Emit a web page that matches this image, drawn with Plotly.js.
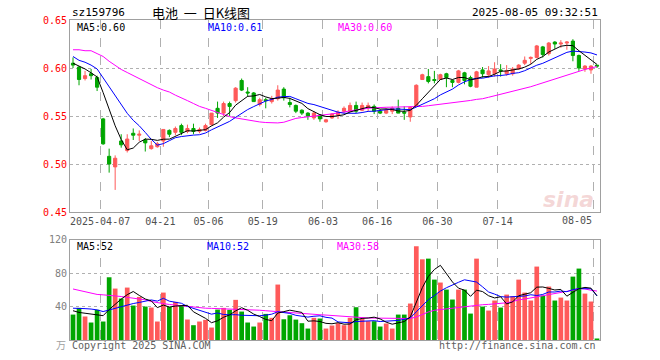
<!DOCTYPE html>
<html><head><meta charset="utf-8">
<script src="https://cdn.plot.ly/plotly-3.0.1.min.js"></script>
<style>html,body{margin:0;padding:0;background:#fff}#chart{width:660px;height:360px}</style>
</head><body><div id="chart"></div>
<script>
// ---- data ----
const dates = [
 '2025-03-28','2025-03-31','2025-04-01','2025-04-02','2025-04-03','2025-04-07','2025-04-08','2025-04-09','2025-04-10','2025-04-11',
 '2025-04-14','2025-04-15','2025-04-16','2025-04-17','2025-04-18','2025-04-21','2025-04-22','2025-04-23','2025-04-24','2025-04-25',
 '2025-04-28','2025-04-29','2025-04-30','2025-05-06','2025-05-07','2025-05-08','2025-05-09','2025-05-12','2025-05-13','2025-05-14',
 '2025-05-15','2025-05-16','2025-05-19','2025-05-20','2025-05-21','2025-05-22','2025-05-23','2025-05-26','2025-05-27','2025-05-28',
 '2025-05-29','2025-05-30','2025-06-03','2025-06-04','2025-06-05','2025-06-06','2025-06-09','2025-06-10','2025-06-11','2025-06-12',
 '2025-06-13','2025-06-16','2025-06-17','2025-06-18','2025-06-19','2025-06-20','2025-06-23','2025-06-24','2025-06-25','2025-06-26',
 '2025-06-27','2025-06-30','2025-07-01','2025-07-02','2025-07-03','2025-07-04','2025-07-07','2025-07-08','2025-07-09','2025-07-10',
 '2025-07-11','2025-07-14','2025-07-15','2025-07-16','2025-07-17','2025-07-18','2025-07-21','2025-07-22','2025-07-23','2025-07-24',
 '2025-07-25','2025-07-28','2025-07-29','2025-07-30','2025-07-31','2025-08-01','2025-08-04','2025-08-05'];
const open = [
 0.605,0.601,0.589,0.594,0.590,0.547,0.508,0.497,0.524,0.514,
 0.532,0.530,0.525,0.516,0.518,0.524,0.535,0.533,0.540,0.534,
 0.537,0.534,0.535,0.541,0.558,0.553,0.563,0.566,0.587,0.575,
 0.574,0.562,0.567,0.565,0.568,0.578,0.564,0.561,0.556,0.553,
 0.548,0.551,0.544,0.548,0.551,0.555,0.555,0.561,0.556,0.559,
 0.560,0.555,0.553,0.555,0.558,0.554,0.549,0.560,0.588,0.591,
 0.588,0.588,0.594,0.587,0.585,0.595,0.590,0.580,0.598,0.593,
 0.594,0.598,0.594,0.594,0.599,0.605,0.610,0.611,0.622,0.615,
 0.627,0.625,0.626,0.628,0.613,0.599,0.598,0.603];
const high = [
 0.611,0.602,0.597,0.599,0.592,0.548,0.516,0.509,0.531,0.531,
 0.537,0.535,0.527,0.524,0.523,0.536,0.536,0.539,0.542,0.541,
 0.542,0.538,0.542,0.553,0.565,0.565,0.565,0.580,0.589,0.580,
 0.575,0.569,0.569,0.571,0.582,0.580,0.569,0.562,0.557,0.554,
 0.555,0.552,0.547,0.553,0.556,0.560,0.564,0.565,0.564,0.564,
 0.562,0.557,0.558,0.560,0.567,0.560,0.560,0.583,0.594,0.599,
 0.597,0.594,0.595,0.588,0.598,0.596,0.592,0.597,0.601,0.602,
 0.606,0.604,0.603,0.601,0.604,0.612,0.612,0.624,0.623,0.627,
 0.628,0.629,0.628,0.630,0.614,0.603,0.603,0.603];
const low = [
 0.600,0.582,0.587,0.588,0.576,0.520,0.491,0.473,0.517,0.512,
 0.525,0.524,0.513,0.515,0.517,0.518,0.528,0.530,0.530,0.532,
 0.531,0.532,0.534,0.540,0.548,0.550,0.550,0.564,0.576,0.570,
 0.565,0.560,0.558,0.563,0.566,0.566,0.559,0.553,0.551,0.546,
 0.546,0.544,0.543,0.547,0.547,0.553,0.554,0.553,0.555,0.555,
 0.552,0.552,0.552,0.552,0.553,0.546,0.544,0.560,0.588,0.584,
 0.584,0.588,0.580,0.580,0.584,0.583,0.580,0.580,0.590,0.590,
 0.591,0.591,0.592,0.592,0.598,0.603,0.604,0.610,0.611,0.613,
 0.620,0.621,0.619,0.607,0.597,0.596,0.594,0.600];
const close = [
 0.603,0.588,0.592,0.592,0.580,0.521,0.500,0.506,0.520,0.526,
 0.530,0.531,0.522,0.519,0.521,0.536,0.531,0.537,0.533,0.537,
 0.534,0.536,0.540,0.553,0.553,0.563,0.560,0.579,0.577,0.574,
 0.565,0.567,0.566,0.568,0.577,0.569,0.562,0.555,0.553,0.550,
 0.553,0.547,0.546,0.552,0.554,0.558,0.561,0.555,0.561,0.561,
 0.555,0.553,0.556,0.558,0.553,0.553,0.559,0.582,0.593,0.586,
 0.587,0.593,0.590,0.585,0.597,0.587,0.581,0.596,0.594,0.597,
 0.599,0.597,0.597,0.599,0.603,0.608,0.611,0.623,0.614,0.626,
 0.625,0.626,0.627,0.613,0.600,0.602,0.602,0.602];
const ma5 = [
 0.605,0.602,0.599,0.595,0.5907,0.5744,0.5569,0.5398,0.5255,0.5148,
 0.5166,0.5227,0.5259,0.5257,0.5246,0.5258,0.5259,0.5288,0.5316,0.5347,
 0.5343,0.5352,0.5358,0.5397,0.5429,0.5488,0.5536,0.5613,0.5663,0.5705,
 0.5709,0.5724,0.5699,0.5681,0.5686,0.5694,0.5683,0.5661,0.5631,0.5577,
 0.5545,0.5514,0.5495,0.5494,0.5503,0.5513,0.5542,0.5560,0.5578,0.5593,
 0.5587,0.5572,0.5574,0.5568,0.5552,0.5549,0.5559,0.5611,0.5680,0.5745,
 0.5812,0.5880,0.5896,0.5880,0.5901,0.5901,0.5877,0.5889,0.5909,0.5911,
 0.5935,0.5966,0.5969,0.5978,0.5990,0.6009,0.6039,0.6090,0.6119,0.6166,
 0.6198,0.6227,0.6236,0.6233,0.6180,0.6134,0.6087,0.6037];
const ma10 = [
 0.612,0.608,0.606,0.603,0.599,0.590,0.581,0.572,0.562,0.5528,
 0.5455,0.5398,0.5329,0.5256,0.5197,0.5212,0.5243,0.5274,0.5286,0.5296,
 0.5301,0.5305,0.5323,0.5356,0.5388,0.5415,0.5444,0.5486,0.5530,0.5567,
 0.5598,0.5630,0.5656,0.5672,0.5696,0.5702,0.5704,0.5680,0.5656,0.5631,
 0.5619,0.5599,0.5578,0.5562,0.5540,0.5529,0.5528,0.5528,0.5536,0.5548,
 0.5550,0.5557,0.5567,0.5573,0.5572,0.5568,0.5566,0.5593,0.5624,0.5649,
 0.5680,0.5720,0.5754,0.5780,0.5823,0.5856,0.5879,0.5893,0.5894,0.5906,
 0.5918,0.5922,0.5929,0.5944,0.5951,0.5972,0.6003,0.6029,0.6049,0.6078,
 0.6104,0.6133,0.6163,0.6176,0.6173,0.6166,0.6157,0.6136];
const ma30 = [
 0.619,0.619,0.618,0.618,0.615,0.612,0.607,0.6025,0.5985,0.5953,
 0.592,0.589,0.586,0.5825,0.5795,0.577,0.575,0.5717,0.5685,0.566,
 0.563,0.560,0.558,0.5557,0.5536,0.5515,0.5494,0.548,0.5468,0.5463,
 0.545,0.5438,0.5432,0.543,0.5428,0.5435,0.5456,0.5475,0.5484,0.549,
 0.5497,0.5505,0.5513,0.5522,0.5532,0.5545,0.5553,0.5563,0.5573,0.558,
 0.5585,0.559,0.5591,0.5592,0.5593,0.5593,0.5596,0.5597,0.560,0.5607,
 0.5615,0.562,0.5627,0.5634,0.5641,0.565,0.5662,0.5673,0.568,0.5695,
 0.571,0.5725,0.574,0.5755,0.577,0.5785,0.5805,0.5825,0.5845,0.5865,
 0.589,0.5912,0.5932,0.595,0.597,0.5985,0.600,0.6015];
const volume = [
 30.4,38.4,28.1,20.9,36.1,22.1,75.0,61.5,49.6,62.7,
 41.2,51.5,40.0,38.8,22.1,56.7,39.6,45.6,41.2,24.5,
 17.7,22.1,24.1,14.9,36.4,38.4,36.1,48.0,34.0,20.9,
 16.1,20.9,31.2,26.5,66.3,24.8,29.6,24.4,20.1,13.7,
 26.5,25.7,13.7,17.3,20.1,17.7,26.5,39.2,25.7,22.5,
 22.5,16.1,19.7,13.7,30.4,30.4,43.6,112.0,96.5,97.3,
 72.2,68.7,60.3,48.4,60.3,60.3,31.6,97.3,40.0,35.2,
 47.2,38.8,54.3,52.3,72.2,56.7,47.2,87.8,53.1,63.9,
 47.2,50.7,47.2,75.8,85.4,55.5,46.0,1.8];
const volMa5 = [
 35,33,32,31,30.8,29.1,36.4,43.1,48.9,54.2,
 58,53.3,49,46.8,38.7,41.8,39.4,40.6,41,41.5,
 33.7,30.2,25.9,20.7,23,27.2,30,34.8,38.6,35.5,
 31,28,24.6,23.1,32.2,33.9,35.7,34.3,33,22.5,
 22.9,22.1,19.9,19.4,20.7,18.9,19.1,24.2,25.8,26.3,
 27.3,25.2,21.3,18.9,20.5,22.1,27.6,46,62.6,76,
 84.3,89.3,79,69.4,62,59.6,52.2,59.6,57.9,52.9,
 50.3,51.7,43.1,45.6,53,54.9,56.5,63.2,63.4,61.7,
 59.8,60.5,52.4,57,61.3,62.9,62,52.9];
const volMa10 = [
 38,38,37.5,37,36,34,36,38,40,42.5,
 43.6,44.9,46.1,47.9,46.5,49.9,46.4,44.8,43.9,40.1,
 37.8,34.8,33.2,30.9,32.3,30.5,30.1,30.3,29.6,29.3,
 29.1,29,29.7,30.9,33.8,32.5,31.8,29.5,28.1,27.4,
 28.4,28.9,27.1,26.2,21.6,20.9,20.6,22.1,22.6,23.5,
 23.1,22.1,22.7,22.4,23.4,24.7,26.4,33.7,40.7,48.2,
 53.2,58.5,62.5,66,69,72,70.8,69.3,63.6,57.4,
 54.9,51.9,51.3,51.7,52.9,52.6,54.1,53.2,54.5,57.4,
 57.4,58.5,57.8,60.2,61.5,61.4,61.3,52.7];
const volMa30 = [
 61,59.5,58,56.5,54.5,54,53.5,52.8,52,51,
 50.2,49.6,48,46,44.5,43.5,42.5,41.8,41,40,
 39,38.4,38,37.8,37.6,37.4,37.2,37,36.6,36.2,
 35.8,35.6,35,34.4,33.7,33,32.4,31.8,31.3,30.8,
 30.4,30.2,29.8,29.2,28.5,28,27.4,26.8,26.4,26.3,
 26.2,26.1,25.8,25.5,25.3,25.4,25.7,27.5,30.5,33.5,
 35.5,36.4,37,37.6,38.3,39.5,40.4,41.7,42.2,42.6,
 43,43.2,44.5,46,48,49,50.3,52,53.5,54.5,
 55.5,56.5,58,59.5,61.5,61,59.5,58.5];
const tickDates = ['2025-04-07','2025-04-21','2025-05-06','2025-05-19','2025-06-03','2025-06-16','2025-06-30','2025-07-14','2025-08-05'];
const tickLabels = ['2025-04-07','04-21','05-06','05-19','06-03','06-16','06-30','07-14','08-05'];
const priceTicks = [0.45,0.50,0.55,0.60,0.65];
const volTicks = [40,80,120];

// ---- drawing ----
const RED = '#ff5a5a', GREEN = '#00a600';
const idx = dates.map((d, i) => i);
const gridPos = tickDates.map(d => dates.indexOf(d) - 0.5);
const volColors = close.map((c, i) => c >= open[i] ? RED : GREEN);
const MONO = 'DejaVu Sans Mono, Liberation Mono, monospace';

const L = 70, T = 20, W = 530, H = 320.5;
const px = x => (x - L) / W;
const py = y => (T + H - y) / H;

const traces = [
  {type:'candlestick', x: idx, open, high, low, close, xaxis:'x', yaxis:'y',
   increasing:{line:{color:RED, width:1}, fillcolor:RED},
   decreasing:{line:{color:GREEN, width:1}, fillcolor:GREEN},
   whiskerwidth:0, hoverinfo:'skip', showlegend:false},
  {type:'scatter', mode:'lines', x: idx, y: ma30, line:{color:'#ff00ff', width:1}, xaxis:'x', yaxis:'y', showlegend:false, hoverinfo:'skip'},
  {type:'scatter', mode:'lines', x: idx, y: ma10, line:{color:'#0000ff', width:1}, xaxis:'x', yaxis:'y', showlegend:false, hoverinfo:'skip'},
  {type:'scatter', mode:'lines', x: idx, y: ma5, line:{color:'#000000', width:1}, xaxis:'x', yaxis:'y', showlegend:false, hoverinfo:'skip'},
  {type:'bar', x: idx, y: volume, marker:{color: volColors, line:{width:0}}, width:0.78, xaxis:'x2', yaxis:'y2', showlegend:false, hoverinfo:'skip'},
  {type:'scatter', mode:'lines', x: idx, y: volMa30, line:{color:'#ff00ff', width:1}, xaxis:'x2', yaxis:'y2', showlegend:false, hoverinfo:'skip'},
  {type:'scatter', mode:'lines', x: idx, y: volMa10, line:{color:'#0000ff', width:1}, xaxis:'x2', yaxis:'y2', showlegend:false, hoverinfo:'skip'},
  {type:'scatter', mode:'lines', x: idx, y: volMa5, line:{color:'#000000', width:1}, xaxis:'x2', yaxis:'y2', showlegend:false, hoverinfo:'skip'}
];

const axisCommon = {showline:true, mirror:true, linecolor:'#a0a0a0', linewidth:1, zeroline:false, fixedrange:true};
const last = gridPos.length - 1;
const ann = (x, y, text, size, color, anchor, family) => ({
  xref:'paper', yref:'paper', x: px(x), y: py(y), xanchor: anchor, yanchor:'middle', showarrow:false,
  text, font:{family: family || MONO, size, color}});
const layout = {
  width:660, height:360,
  margin:{l:L, r:60, t:T, b:19.5},
  paper_bgcolor:'#fff', plot_bgcolor:'#fff',
  showlegend:false, boxgap:0.25,
  xaxis: Object.assign({}, axisCommon, {
    domain:[0,1], anchor:'y', range:[-0.5, dates.length - 0.5],
    tickmode:'array', tickvals: gridPos,
    ticktext: tickLabels.map((t, i) => i === last ? '' : t),
    showgrid:true, gridcolor:'#b0b0b0', griddash:'dash', gridwidth:1,
    ticks:'', tickfont:{family:MONO, size:10, color:'#505050'},
    rangeslider:{visible:false}
  }),
  yaxis: Object.assign({}, axisCommon, {
    domain:[0.4, 1], anchor:'x', range:[0.45, 0.65],
    tickmode:'array', tickvals: priceTicks, ticktext: priceTicks.map(v => v.toFixed(2)),
    showgrid:true, gridcolor:'#b0b0b0', griddash:'dot', gridwidth:1,
    ticks:'', tickfont:{family:MONO, size:10, color:'#ff0000'}
  }),
  xaxis2: Object.assign({}, axisCommon, {
    domain:[0,1], anchor:'y2', matches:'x', range:[-0.5, dates.length - 0.5],
    tickmode:'array', tickvals: gridPos, showticklabels:false,
    showgrid:true, gridcolor:'#b0b0b0', griddash:'dash', gridwidth:1, ticks:''
  }),
  yaxis2: Object.assign({}, axisCommon, {
    domain:[0, 0.3136], anchor:'x2', range:[0, 120],
    tickmode:'array', tickvals: volTicks, ticktext: volTicks.map(String),
    showgrid:true, gridcolor:'#b0b0b0', griddash:'dot', gridwidth:1,
    ticks:'', tickfont:{family:MONO, size:10, color:'#808080'}
  }),
  annotations: [
    {xref:'x', yref:'paper', x: gridPos[last], y: py(221), xanchor:'right', yanchor:'middle', showarrow:false,
     text: tickLabels[last], font:{family:MONO, size:10, color:'#505050'}},
    ann(70, 12, 'sz159796', 11, '#000', 'left'),
    ann(150, 12, '电池&nbsp;&nbsp;一&nbsp;&nbsp;日K线图', 13, '#000', 'left', 'Noto Sans CJK SC'),
    ann(600, 12, '2025-08-05 09:32:51', 11, '#000', 'right'),
    ann(75, 27.5, 'MA5:' + ma5[ma5.length-1].toFixed(2), 10, '#000', 'left'),
    ann(206, 27.5, 'MA10:' + ma10[ma10.length-1].toFixed(2), 10, '#0000ff', 'left'),
    ann(336, 27.5, 'MA30:' + ma30[ma30.length-1].toFixed(2), 10, '#ff00ff', 'left'),
    ann(75, 247, 'MA5:' + Math.floor(volMa5[volMa5.length-1]), 10, '#000', 'left'),
    ann(205, 247, 'MA10:' + Math.floor(volMa10[volMa10.length-1]), 10, '#0000ff', 'left'),
    ann(335, 247, 'MA30:' + Math.floor(volMa30[volMa30.length-1]), 10, '#ff00ff', 'left'),
    ann(68, 345.5, '万', 10, '#a0a0a0', 'right', 'Noto Sans CJK SC'),
    ann(70, 346, 'Copyright 2025 SINA.COM', 10, '#606060', 'left'),
    ann(598, 346, 'http://finance.sina.com.cn', 10, '#606060', 'right'),
    ann(568, 200, '<b><i>sina</i></b>', 22, 'rgba(225,140,140,0.35)', 'center', 'DejaVu Sans')
  ]
};

Plotly.newPlot('chart', traces, layout, {staticPlot:true, displayModeBar:false});
</script>
</body></html>
